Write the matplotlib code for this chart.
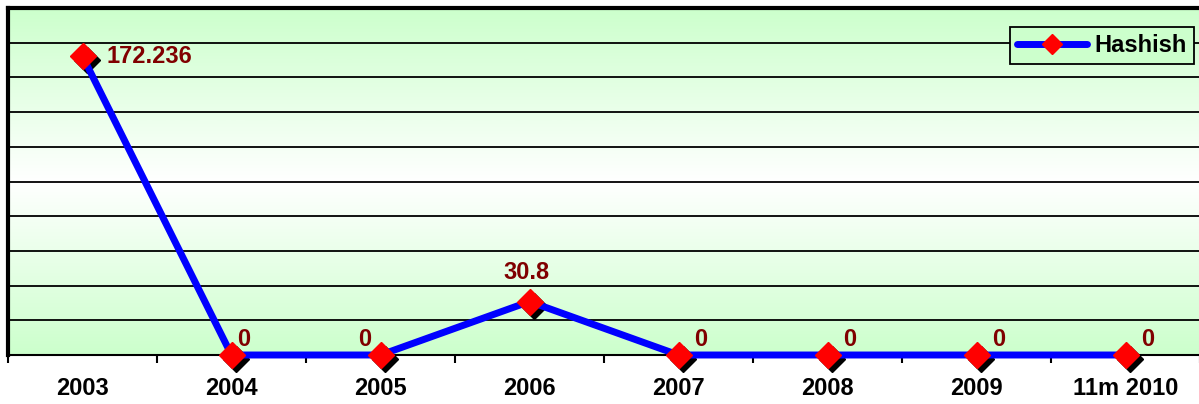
import numpy as np
import matplotlib.pyplot as plt
from matplotlib.colors import LinearSegmentedColormap
from matplotlib.lines import Line2D
from matplotlib import transforms

plt.rcParams['font.family'] = ['Liberation Sans', 'DejaVu Sans']

years = ['2003', '2004', '2005', '2006', '2007', '2008', '2009', '11m 2010']
hashish = [172.236, 0, 0, 30.8, 0, 0, 0, 0]
value_text = ['172.236', '0', '0', '30.8', '0', '0', '0', '0']

# label offsets in points (dx, dy, ha)
label_pos = [(17, 0, 'left'), (4, 11, 'left'), (-7, 11, 'right'), (-2, 21, 'center'),
             (11, 11, 'left'), (11, 11, 'left'), (11, 11, 'left'), (11, 11, 'left')]

fig = plt.figure(figsize=(11.99, 4.04), dpi=100)
ax = fig.add_axes([8 / 1199, 49 / 404, 1192 / 1199, 347 / 404])

x = np.arange(len(years))
ax.set_xlim(-0.5, len(years) - 0.5)
ax.set_ylim(0, 200)

# green-white-green background
cmap = LinearSegmentedColormap.from_list('bg', ['#ccffcc', '#ffffff', '#ccffcc'])
grad = np.linspace(0, 1, 256).reshape(-1, 1)
ax.imshow(grad, cmap=cmap, aspect='auto', extent=[-0.5, len(years) - 0.5, 0, 200],
          zorder=0, interpolation='bicubic')

for yv in range(20, 200, 20):
    ax.axhline(yv, color='black', lw=1.3, zorder=1)

shadow = transforms.offset_copy(ax.transData, fig=fig, x=4, y=-4, units='dots')
ax.plot(x, hashish, ls='none', marker='D', ms=13.5, color='black', transform=shadow,
        zorder=2, clip_on=False)
ax.plot(x, hashish, color='#0000ff', lw=5, zorder=3, solid_capstyle='round', clip_on=False)
ax.plot(x, hashish, ls='none', marker='D', ms=13.5, color='#ff0000', zorder=4, clip_on=False)

for xi, yi, t, (dx, dy, ha) in zip(x, hashish, value_text, label_pos):
    ax.annotate(t, (xi, yi), xytext=(dx, dy), textcoords='offset points',
                ha=ha, va='center', fontsize=17, fontweight='bold', color='#800000', zorder=5)

ax.set_xticks(x)
ax.set_xticklabels(years, fontsize=17, fontweight='bold')
ax.tick_params(axis='x', which='major', length=0, pad=16)
ax.set_xticks(np.arange(-0.5, len(years), 1), minor=True)
ax.tick_params(axis='x', which='minor', length=6, width=1.5, direction='out')
ax.set_yticks([])

ax.spines['left'].set_linewidth(3)
ax.spines['top'].set_linewidth(3)
ax.spines['bottom'].set_linewidth(1.5)
ax.spines['right'].set_visible(False)

handle = Line2D([], [], color='#0000ff', lw=5, marker='D', ms=10, mfc='#ff0000',
                mec='#ff0000', solid_capstyle='round')
leg = ax.legend([handle], ['Hashish'], loc='upper right', bbox_to_anchor=(0.995, 0.945),
                prop={'weight': 'bold', 'size': 17}, frameon=True, fancybox=False,
                handlelength=3.0, borderpad=0.3, handletextpad=0.3, borderaxespad=0)
leg.get_frame().set_edgecolor('black')
leg.get_frame().set_linewidth(1.3)
leg.get_frame().set_facecolor('#ccffcc')
leg.get_frame().set_alpha(1)

fig.savefig('out.png', dpi=100)
